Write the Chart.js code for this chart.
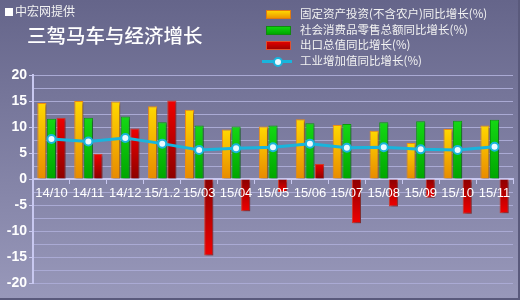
<!DOCTYPE html>
<html>
<head>
<meta charset="utf-8">
<script src="https://cdn.jsdelivr.net/npm/chart.js@4"></script>
<style>
  body { margin: 0; }
  #wrap {
    position: relative; width: 520px; height: 300px; box-sizing: border-box;
    background: linear-gradient(#65658a, #9898ba);
    border-right: 2px solid #5a5a7c; border-bottom: 2px solid #5a5a7c;
    font-family: "Noto Sans CJK SC", sans-serif; color: #f2f2f2;
  }
  #chart { position: absolute; left: 0; top: 0; }
  .src { position: absolute; left: 5px; top: 4px; font-size: 12px; line-height: 14px; }
  .src i { display: inline-block; width: 8px; height: 8px; background: #fff; margin-right: 2px; vertical-align: 0; }
  .title { position: absolute; left: 27px; top: 22px; font-size: 19.5px; line-height: 26px; color: #fff; font-weight: 500; }
  .legend { position: absolute; left: 265px; top: 6px; font-size: 11.5px; }
  .legend div { height: 15.5px; line-height: 15.5px; position: relative; padding-left: 35px; white-space: nowrap; }
  .legend b { position: absolute; left: 1px; top: 4px; width: 23px; height: 7px; }
  .sw-y { background: linear-gradient(#ffd600, #ec9600); border: 1px solid #e07a10; }
  .sw-g { background: linear-gradient(#10d410, #00a800); border: 1px solid #108a10; }
  .sw-r { background: linear-gradient(#e00000, #a00000); border: 1px solid #e05030; }
  .legend .ln { left: -3px; top: 7px; width: 30px; height: 3px; background: #19b4dc; }
  .legend .dot { left: 8px; top: 4px; width: 6px; height: 6px; border-radius: 50%; background: #eafaff; border: 2px solid #19b4dc; }
</style>
</head>
<body>
<div id="wrap">
  <canvas id="chart" width="520" height="300"></canvas>
  <div class="src"><i></i>中宏网提供</div>
  <div class="title">三驾马车与经济增长</div>
  <div class="legend">
    <div><b class="sw-y"></b>固定资产投资(不含农户)同比增长(%)</div>
    <div><b class="sw-g"></b>社会消费品零售总额同比增长(%)</div>
    <div><b class="sw-r"></b>出口总值同比增长(%)</div>
    <div><b class="ln"></b><b class="dot"></b>工业增加值同比增长(%)</div>
  </div>
</div>
<script>
// Data
const months = ['14/10', '14/11', '14/12', '15/1.2', '15/03', '15/04', '15/05', '15/06', '15/07', '15/08', '15/09', '15/10', '15/11'];
const fixedInvest = [14.6, 15.0, 14.9, 14.0, 13.3, 9.5, 10.1, 11.5, 10.4, 9.3, 6.9, 9.6, 10.3];
const retailSales = [11.6, 11.8, 12.0, 10.9, 10.3, 10.1, 10.3, 10.7, 10.6, 10.9, 11.1, 11.2, 11.4];
const exportsGrowth = [11.8, 4.8, 9.7, 15.1, -14.7, -6.2, -2.5, 2.9, -8.5, -5.3, -3.6, -6.7, -6.6];
const industryGrowth = [7.7, 7.2, 7.9, 6.8, 5.6, 5.9, 6.1, 6.8, 6.0, 6.1, 5.7, 5.6, 6.2];
const yTicks = [-20, -15, -10, -5, 0, 5, 10, 15, 20];

// gradient from the bar base (value 0) to its tip
function barFill(tip, base) {
  return ctx => {
    const chart = ctx.chart;
    const y = chart.scales.y;
    if (!y || ctx.type !== 'data') return tip;
    const y0 = y.getPixelForValue(0);
    const y1 = y.getPixelForValue(ctx.raw);
    if (!isFinite(y0) || !isFinite(y1) || y0 === y1) return tip;
    const g = chart.ctx.createLinearGradient(0, y1, 0, y0);
    g.addColorStop(0, tip);
    g.addColorStop(1, base);
    return g;
  };
}

// drop shadow under the bars
const barShadow = {
  id: 'barShadow',
  beforeDatasetDraw(chart, args) {
    if (args.meta.type !== 'bar') return;
    const c = chart.ctx;
    c.save();
    c.shadowColor = 'rgba(30,30,60,0.45)';
    c.shadowOffsetX = 2;
    c.shadowOffsetY = 2;
    c.shadowBlur = 2;
  },
  afterDatasetDraw(chart, args) {
    if (args.meta.type !== 'bar') return;
    chart.ctx.restore();
  }
};

const barCommon = { type: 'bar', order: 1, borderWidth: 1, barPercentage: 0.95, categoryPercentage: 0.78 };

new Chart(document.getElementById('chart'), {
  data: {
    labels: months,
    datasets: [
      Object.assign({ label: '固定资产投资(不含农户)同比增长(%)', data: fixedInvest,
        backgroundColor: barFill('#ffd800', '#e88a00'), borderColor: '#ee8a10' }, barCommon),
      Object.assign({ label: '社会消费品零售总额同比增长(%)', data: retailSales,
        backgroundColor: barFill('#14d814', '#00a600'), borderColor: '#0c9a0c' }, barCommon),
      Object.assign({ label: '出口总值同比增长(%)', data: exportsGrowth,
        backgroundColor: barFill('#f00000', '#8c0000'), borderColor: '#d03a28' }, barCommon),
      {
        type: 'line', order: 0, label: '工业增加值同比增长(%)', data: industryGrowth,
        borderColor: '#19b4dc', borderWidth: 3, tension: 0,
        pointRadius: 4, pointBorderWidth: 2, pointBackgroundColor: '#eafaff', pointBorderColor: '#19b4dc'
      }
    ]
  },
  options: {
    responsive: false,
    animation: false,
    layout: { padding: { top: 75, right: 7, bottom: 17, left: 0 } },
    plugins: { legend: { display: false }, tooltip: { enabled: false } },
    scales: {
      x: {
        position: { y: 0 },
        afterFit: s => { s.height = 0; },
        grid: { drawOnChartArea: false, drawTicks: true, tickLength: 4, tickColor: '#c8c8f0', offset: true },
        border: { display: true, color: '#c8c8f0', width: 2 },
        ticks: { z: 1, color: '#ffffff', font: { family: 'Liberation Sans', size: 13 }, padding: 3, maxRotation: 0, autoSkip: false }
      },
      y: {
        min: -20, max: 20,
        afterFit: s => { s.width = 33; },
        grid: {
          color: '#aaaad4', lineWidth: 1, tickLength: 4,
          tickColor: c => yTicks.includes(c.tick.value) ? '#c8c8f0' : 'rgba(0,0,0,0)'
        },
        border: { color: '#c8c8f0', width: 2 },
        ticks: {
          stepSize: 2.5, maxTicksLimit: 20, autoSkip: false,
          color: '#ffffff', padding: 2,
          font: { family: 'Liberation Sans', size: 14, weight: 'bold' },
          callback: v => yTicks.includes(v) ? v : ''
        }
      }
    }
  },
  plugins: [barShadow]
});
</script>
</body>
</html>
